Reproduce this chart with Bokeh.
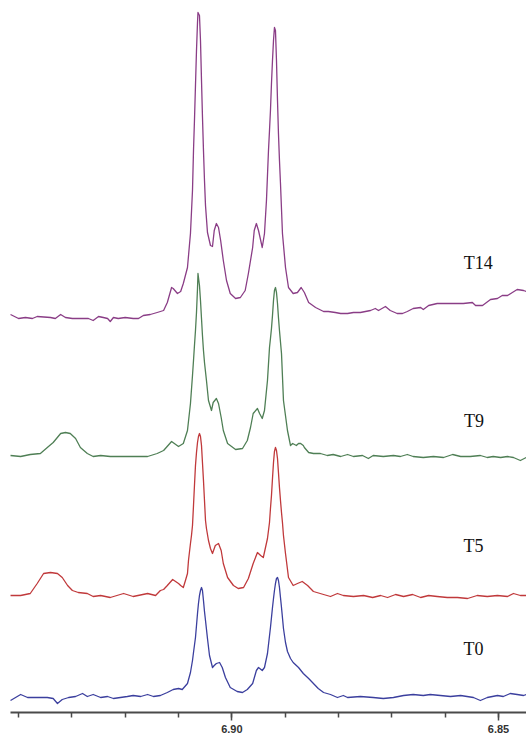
from bokeh.plotting import figure
from bokeh.models import Range1d, FixedTicker, NumeralTickFormatter
from bokeh.core.properties import value
from bokeh.embed import file_html
from bokeh.resources import INLINE

# ---------------- data (chemical shift in ppm, intensity in arbitrary units) ----------------
t14_ppm = [
    6.9415, 6.9400, 6.9387, 6.9374, 6.9365, 6.9340, 6.9331, 6.9321, 6.9312, 6.9299,
    6.9284, 6.9269, 6.9260, 6.9250, 6.9241, 6.9233, 6.9228, 6.9222, 6.9213, 6.9200,
    6.9185, 6.9175, 6.9166, 6.9153, 6.9140, 6.9128, 6.9121, 6.9113, 6.9110, 6.9102,
    6.9096, 6.9091, 6.90832, 6.90776, 6.90738, 6.90719, 6.90701, 6.90682, 6.90663, 6.90644,
    6.90635, 6.90607, 6.90588, 6.90569, 6.90551, 6.90532, 6.90513, 6.90494, 6.90457, 6.90401,
    6.90363, 6.9033, 6.9029, 6.9025, 6.9021, 6.9016, 6.9010, 6.9003, 6.8993, 6.8984,
    6.8975, 6.8969, 6.8961, 6.8958, 6.8954, 6.8950, 6.8943, 6.89388, 6.89351, 6.89332,
    6.89313, 6.89294, 6.89276, 6.89257, 6.89238, 6.89219, 6.89201, 6.89182, 6.89163, 6.89144,
    6.89126, 6.89107, 6.89088, 6.89051, 6.88994, 6.88938, 6.8885, 6.8877, 6.8870, 6.8864,
    6.8856, 6.8843, 6.8828, 6.8819, 6.8806, 6.8796, 6.8783, 6.8772, 6.8759, 6.8740,
    6.8731, 6.8725, 6.8712, 6.8703, 6.8690, 6.8680, 6.8671, 6.8660, 6.8646, 6.8641,
    6.8631, 6.8615, 6.8596, 6.8577, 6.8566, 6.8549, 6.8543, 6.8530, 6.8515, 6.8502,
    6.8493, 6.8483, 6.8474, 6.8465, 6.8453, 6.8448,
]
t14_int = [
    1, -3, -2, -3, -1, -2, -3, 1, -2, -3,
    -3, -3, -5, -1, -2, -3, -6, -2, -3, -2,
    -3, -3, 0, 1, 3, 5, 13, 28, 27, 22,
    24, 32, 48, 82, 125, 165, 195, 230, 265, 293,
    303, 300, 275, 235, 199, 165, 135, 110, 83, 70,
    69, 85, 92, 88, 75, 55, 35, 22, 17, 18,
    25, 42, 68, 85, 92, 85, 68, 82, 115, 140,
    165, 185, 205, 232, 255, 275, 288, 285, 255, 215,
    182, 155, 132, 82, 48, 28, 22, 23, 28, 23,
    13, 8, 4, 4, 3, 2, 2, 3, 3, 5,
    7, 5, 9, 5, 2, 2, 4, 7, 8, 6,
    10, 12, 12, 12, 12, 13, 10, 10, 16, 17,
    20, 20, 23, 26, 25, 24,
]

t9_ppm = [
    6.9415, 6.9396, 6.9378, 6.9359, 6.9346, 6.9335, 6.9321, 6.9312, 6.9303, 6.9293,
    6.9284, 6.9271, 6.9260, 6.9246, 6.9228, 6.9209, 6.9185, 6.9158, 6.9140, 6.9128,
    6.9113, 6.9100, 6.9091, 6.90832, 6.90776, 6.90738, 6.90719, 6.90701, 6.90682, 6.90663,
    6.90644, 6.90635, 6.90607, 6.90588, 6.90569, 6.90551, 6.90532, 6.90513, 6.90476, 6.90438,
    6.90382, 6.9035, 6.9029, 6.9025, 6.9020, 6.9016, 6.9008, 6.8993, 6.8980, 6.8971,
    6.8965, 6.8960, 6.8952, 6.8948, 6.8943, 6.89388, 6.89332, 6.89294, 6.89276, 6.89257,
    6.89238, 6.89219, 6.89201, 6.89182, 6.89163, 6.89144, 6.89126, 6.89107, 6.89069, 6.89032,
    6.88957, 6.8890, 6.8886, 6.8879, 6.8875, 6.8871, 6.8866, 6.8864, 6.8856, 6.8847,
    6.8834, 6.8821, 6.8810, 6.8796, 6.8783, 6.8772, 6.8755, 6.8744, 6.8735, 6.8716,
    6.8697, 6.8684, 6.8671, 6.8660, 6.8641, 6.8622, 6.8603, 6.8586, 6.8571, 6.8553,
    6.8534, 6.8521, 6.8510, 6.8496, 6.8483, 6.8472, 6.8459, 6.8448,
]
t9_int = [
    0, -1, 1, 2, 8, 13, 22, 23, 22, 17,
    8, 2, -1, 0, -1, -1, -1, -1, 2, 5,
    14, 9, 12, 25, 52, 80, 95, 110, 125, 143,
    167, 182, 170, 155, 137, 120, 105, 93, 75, 55,
    45, 53, 57, 52, 38, 25, 12, 6, 7, 15,
    28, 42, 47, 42, 37, 45, 75, 108, 117, 127,
    140, 155, 165, 168, 163, 152, 138, 125, 102, 55,
    25, 10, 12, 10, 12, 12, 10, 8, 3, 2,
    2, 0, 1, -1, 1, -1, 0, -3, 0, -1,
    0, -1, 1, -1, -2, -1, -2, 1, -1, -1,
    0, -2, -1, -2, -1, -2, -5, -2,
]

t5_ppm = [
    6.9415, 6.9396, 6.9378, 6.9365, 6.9353, 6.9340, 6.9327, 6.9318, 6.9308, 6.9299,
    6.9288, 6.9271, 6.9260, 6.9246, 6.9228, 6.9203, 6.9185, 6.9158, 6.9143, 6.9134,
    6.9128, 6.9121, 6.9111, 6.9100, 6.9096, 6.9091, 6.9087, 6.90832, 6.90813, 6.90776,
    6.90757, 6.90738, 6.90719, 6.90701, 6.90682, 6.90663, 6.90644, 6.90626, 6.90607, 6.90588,
    6.90569, 6.90551, 6.90532, 6.90513, 6.90494, 6.90476, 6.90438, 6.90401, 6.90363, 6.9031,
    6.9025, 6.9020, 6.9016, 6.9008, 6.8997, 6.8988, 6.8978, 6.8969, 6.8960, 6.8952,
    6.8946, 6.8941, 6.89332, 6.89294, 6.89276, 6.89257, 6.89238, 6.89219, 6.89201, 6.89182,
    6.89163, 6.89144, 6.89126, 6.89107, 6.89088, 6.89069, 6.89051, 6.89032, 6.88994, 6.88938,
    6.8885, 6.8877, 6.8868, 6.8858, 6.8847, 6.8828, 6.8815, 6.8802, 6.8791, 6.8772,
    6.8753, 6.8736, 6.8721, 6.8708, 6.8693, 6.8678, 6.8661, 6.8646, 6.8631, 6.8615,
    6.8596, 6.8577, 6.8558, 6.8540, 6.8521, 6.8502, 6.8483, 6.8472, 6.8459, 6.8448,
]
t5_int = [
    0, 0, 2, 12, 22, 23, 22, 18, 10, 5,
    3, 2, -1, 0, -2, 2, -1, 2, 0, 5,
    6, 10, 16, 12, 10, 8, 15, 22, 35, 52,
    60, 70, 90, 110, 130, 143, 153, 159, 162, 159,
    150, 133, 115, 95, 75, 67, 55, 47, 42, 50,
    52, 45, 32, 18, 10, 7, 8, 17, 32, 43,
    40, 38, 57, 73, 87, 100, 117, 133, 144, 148,
    145, 137, 123, 108, 95, 83, 73, 60, 42, 18,
    10, 12, 14, 10, 4, 1, -1, 2, 0, -1,
    0, -2, 0, -2, 1, -1, 1, -2, 0, -1,
    -2, -2, -3, 0, -1, 0, -1, 2, 0, 0,
]

t0_ppm = [
    6.9415, 6.9396, 6.9383, 6.9365, 6.9346, 6.9335, 6.9327, 6.9318, 6.9306, 6.9293,
    6.9280, 6.9271, 6.9260, 6.9246, 6.9233, 6.9222, 6.9209, 6.9196, 6.9185, 6.9171,
    6.9158, 6.9147, 6.9134, 6.9121, 6.9110, 6.9100, 6.9093, 6.90832, 6.90776, 6.90738,
    6.90719, 6.90682, 6.90663, 6.90644, 6.90626, 6.90607, 6.90588, 6.90569, 6.90551, 6.90532,
    6.90513, 6.90494, 6.90457, 6.90419, 6.90363, 6.9033, 6.9029, 6.9023, 6.9018, 6.9012,
    6.9003, 6.8990, 6.8980, 6.8971, 6.8961, 6.8954, 6.8950, 6.8943, 6.89388, 6.89332,
    6.89276, 6.89257, 6.89238, 6.89219, 6.89201, 6.89182, 6.89163, 6.89144, 6.89126, 6.89107,
    6.89088, 6.89069, 6.89032, 6.88994, 6.88957, 6.8890, 6.8885, 6.8875, 6.8866, 6.8856,
    6.8847, 6.8838, 6.8828, 6.8815, 6.8802, 6.8791, 6.8783, 6.8759, 6.8735, 6.8716,
    6.8697, 6.8678, 6.8660, 6.8641, 6.8628, 6.8609, 6.8590, 6.8571, 6.8547, 6.8534,
    6.8521, 6.8502, 6.8491, 6.8478, 6.8465, 6.8453, 6.8448,
]
t0_int = [
    -3, 3, 0, 0, 0, -1, -6, -2, 0, 1,
    4, 1, 3, 0, 1, -1, 0, 1, 2, 1,
    3, 1, 2, 5, 8, 9, 8, 14, 25, 37,
    45, 60, 72, 84, 94, 102, 107, 110, 107, 97,
    86, 77, 59, 42, 30, 32, 34, 35, 30, 20,
    10, 6, 5, 8, 14, 27, 30, 27, 30, 44,
    70, 80, 90, 99, 107, 114, 119, 120, 117, 110,
    100, 90, 69, 55, 46, 39, 35, 30, 24, 19,
    14, 9, 5, 3, 0, 2, 0, 1, 0, -1,
    0, 2, 3, 2, 3, 2, 1, 2, 0, -3,
    0, 2, 1, 4, 3, 2, 3,
]

names = ["T0", "T5", "T9", "T14"]
stack_offsets = [15, 117, 257, 397]          # vertical stacking of the spectra
colors = ["#3b3f9e", "#c0393b", "#4f7f55", "#8a3d86"]
label_ppm = [6.8547, 6.8547, 6.8546, 6.8538]
label_y = [64, 167, 292, 450]
major_ticks = [6.90, 6.85]
minor_ticks = [6.94, 6.93, 6.92, 6.91, 6.90, 6.89, 6.88, 6.87, 6.86, 6.85]

series_ppm = [t0_ppm, t5_ppm, t9_ppm, t14_ppm]
series_int = [t0_int, t5_int, t9_int, t14_int]
for a, b in zip(series_ppm, series_int):
    assert len(a) == len(b), (len(a), len(b))

# ---------------- figure ----------------
p = figure(width=526, height=740,
           x_range=Range1d(6.94338, 6.84475), y_range=Range1d(0, 712),
           output_backend="svg", toolbar_location=None,
           y_axis_location=None,
           min_border_left=0, min_border_right=0, min_border_top=0, min_border_bottom=28)
p.xgrid.visible = False
p.ygrid.visible = False
p.outline_line_color = None
p.background_fill_color = "white"
p.border_fill_color = "white"

for xs, ys, off, col in zip(series_ppm, series_int, stack_offsets, colors):
    p.line(xs, [v + off for v in ys], line_color=col, line_width=1.3, line_join="round")

p.text(x=label_ppm, y=label_y, text=names,
       text_font=value("Liberation Serif"), text_font_size="18px",
       text_align="center", text_baseline="middle", text_color="#111111")

ax = p.xaxis[0]
ax.ticker = FixedTicker(ticks=major_ticks, minor_ticks=minor_ticks)
ax.formatter = NumeralTickFormatter(format="0.00")
ax.bounds = (6.84475, 6.9415)
ax.axis_line_color = "#4a4a4a"
ax.axis_line_width = 2
ax.major_tick_line_color = "#4a4a4a"
ax.major_tick_line_width = 1.5
ax.major_tick_in = 0
ax.major_tick_out = 8
ax.minor_tick_line_color = "#4a4a4a"
ax.minor_tick_line_width = 1.5
ax.minor_tick_in = 0
ax.minor_tick_out = 5
ax.major_label_standoff = 4
ax.major_label_text_font = "Liberation Sans"
ax.major_label_text_font_style = "bold"
ax.major_label_text_font_size = "11px"
ax.major_label_text_color = "#333333"

open("out.html", "w").write(file_html(p, INLINE))
